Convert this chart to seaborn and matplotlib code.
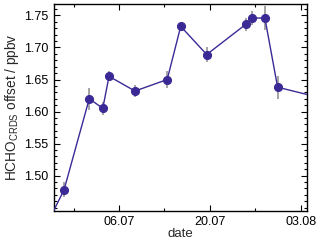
import matplotlib
matplotlib.use("Agg")
import matplotlib.pyplot as plt
import matplotlib.dates as mdates
from matplotlib.ticker import MultipleLocator, FixedLocator, FormatStrFormatter
import seaborn as sns
import pandas as pd

dates = ["2017-06-25 13:00", "2017-06-27 13:00", "2017-07-01 10:00", "2017-07-03 12:00",
         "2017-07-04 11:00", "2017-07-08 11:00", "2017-07-13 10:00", "2017-07-15 12:00",
         "2017-07-19 12:00", "2017-07-25 12:00", "2017-07-26 11:00", "2017-07-28 11:00",
         "2017-07-30 10:00", "2017-08-05 00:00"]
offset = [1.437, 1.478, 1.620, 1.605, 1.655, 1.632, 1.650, 1.733,
          1.689, 1.736, 1.746, 1.746, 1.638, 1.624]
err = [0.0, 0.012, 0.017, 0.010, 0.008, 0.010, 0.014, 0.005,
       0.012, 0.010, 0.011, 0.018, 0.018, 0.0]
yticks = [1.50, 1.55, 1.60, 1.65, 1.70, 1.75]
xticks = ["2017-07-06", "2017-07-20", "2017-08-03"]
xminor = ["2017-06-29", "2017-07-13", "2017-07-27"]

df = pd.DataFrame({"date": pd.to_datetime(dates), "offset": offset, "err": err})

sns.set_style("ticks")
plt.rcParams["font.family"] = ["Liberation Sans", "DejaVu Sans"]
plt.rcParams["mathtext.fontset"] = "custom"
plt.rcParams["mathtext.rm"] = "Liberation Sans"
plt.rcParams["mathtext.it"] = "Liberation Sans:italic"

fig = plt.figure(figsize=(3.2, 2.46), dpi=100)
ax = fig.add_axes([0.169, 0.143, 0.789, 0.841])

col = "#3b2a96"
ax.errorbar(df["date"], df["offset"], yerr=df["err"], fmt="none",
            ecolor="#8a8a8a", elinewidth=1.1, zorder=2)
sns.lineplot(data=df, x="date", y="offset", ax=ax, color=col, lw=1.0,
             marker="o", markersize=5.8, markeredgecolor=col, zorder=3)

ax.set_xlim(pd.Timestamp("2017-06-26 00:00"), pd.Timestamp("2017-08-03 21:00"))
ax.set_ylim(1.445, 1.768)

ax.xaxis.set_major_locator(FixedLocator(mdates.date2num(pd.to_datetime(xticks))))
ax.xaxis.set_minor_locator(FixedLocator(mdates.date2num(pd.to_datetime(xminor))))
ax.xaxis.set_major_formatter(mdates.DateFormatter("%d.%m"))
ax.yaxis.set_major_locator(FixedLocator(yticks))
ax.yaxis.set_minor_locator(MultipleLocator(0.01))
ax.yaxis.set_major_formatter(FormatStrFormatter("%.2f"))

ax.tick_params(which="both", direction="in", top=True, right=True, labelsize=9,
               colors="black", width=0.8)
ax.tick_params(which="major", length=4, pad=4)
ax.tick_params(which="minor", length=2.5)
for s in ax.spines.values():
    s.set_linewidth(1.0)
    s.set_color("black")

ax.set_xlabel("date", fontsize=9.5, labelpad=0)
ax.set_ylabel(r"HCHO$_{\mathrm{CRDS}}$ offset / ppbv", fontsize=9.8, labelpad=2)

fig.savefig("out.png", dpi=100)
